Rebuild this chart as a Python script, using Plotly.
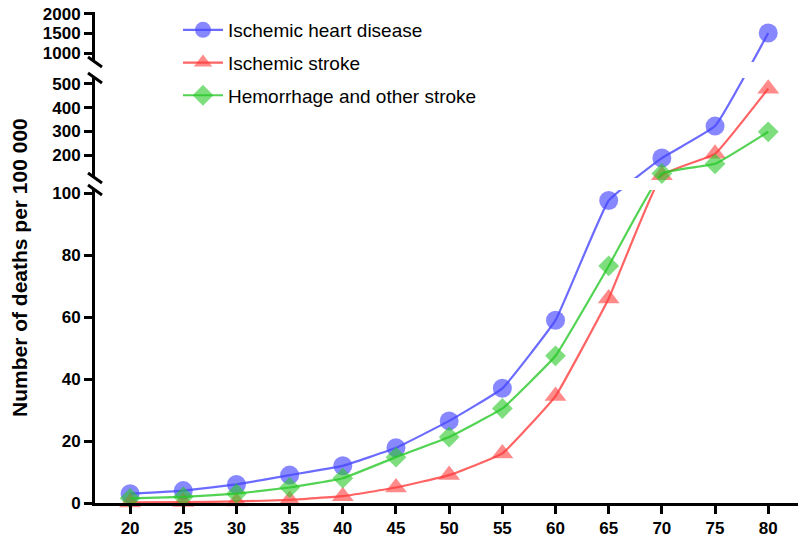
import plotly.graph_objects as go

ages = [20, 25, 30, 35, 40, 45, 50, 55, 60, 65, 70, 75, 80]
ihd = [3, 4, 6, 9, 12, 17.8, 26.5, 37, 59, 97.6, 187, 322, 1510]
isch_stroke = [0.2, 0.3, 0.5, 1, 2.2, 5, 9, 16, 34.5, 66, 115, 205, 480]
hemorrhage = [1.5, 2, 3, 5, 8, 14.8, 21.3, 30.5, 47.5, 76.5, 122, 163, 298]

names = ["Ischemic heart disease", "Ischemic stroke", "Hemorrhage and other stroke"]
series = [ihd, isch_stroke, hemorrhage]
symbols = ["circle", "triangle-up", "diamond"]
msizes = [19, 19, 16]
mcolors = ["rgba(70,70,255,0.65)", "rgba(255,60,60,0.6)", "rgba(40,200,40,0.6)"]
lcolors = ["rgba(70,70,255,0.8)", "rgba(255,60,60,0.8)", "rgba(40,200,40,0.8)"]

bottom_ticks = [0, 20, 40, 60, 80, 100]
middle_ticks = [200, 300, 400, 500]
top_ticks = [1000, 1500, 2000]

W, H = 798, 538
ML, MR, MT, MB = 95, 0, 10, 35
PH = H - MT - MB
PW = W - ML - MR
BASE = H - MB  # pixel row of y = 0

# broken-axis segments: (value range, pixel rows bottom/top)
segments = [
    ((0, 101), (503, 190)),
    ((103, 525), (178, 78)),
    ((770, 2050), (62, 12)),
]


def seg_index(v):
    if v < 102:
        return 0
    if v < 650:
        return 1
    return 2


def to_t(v):
    """Broken-axis scale: value -> height (px units) above the x axis."""
    (v0, v1), (p0, p1) = segments[seg_index(v)]
    t0, t1 = BASE - p0, BASE - p1
    return t0 + (v - v0) * (t1 - t0) / (v1 - v0)


def fy(py):
    return (BASE - py) / PH


def fx(px):
    return (px - ML) / PW


fig = go.Figure()
axes = ["y", "y2", "y3"]
for k, ax in enumerate(axes):
    for i in range(3):
        fig.add_trace(go.Scatter(
            x=ages, y=[to_t(v) for v in series[i]], name=names[i],
            customdata=series[i], hovertemplate="%{x}: %{customdata}<extra>%{fullData.name}</extra>",
            yaxis=ax, xaxis="x",
            mode="lines+markers",
            line=dict(color=lcolors[i], width=2.2, shape="spline", smoothing=0.3),
            marker=dict(symbol=symbols[i], size=msizes[i], color=mcolors[i],
                        line=dict(width=0)),
            cliponaxis=False,
            showlegend=(k == 0),
            legendgroup=names[i],
        ))

tickfont = dict(family="Liberation Sans, Arial", size=17, color="black", weight="bold")
yax_common = dict(showline=True, linewidth=3, linecolor="black", ticks="outside",
                  ticklen=8, tickwidth=2.5, tickcolor="black", showgrid=False,
                  zeroline=False, tickfont=tickfont, anchor="x", fixedrange=True)

tick_sets = [bottom_ticks, middle_ticks, top_ticks]
yaxes = {}
for k, ax in enumerate(axes):
    (v0, v1), (p0, p1) = segments[k]
    key = "yaxis" if k == 0 else "yaxis%d" % (k + 1)
    yaxes[key] = dict(range=[BASE - p0, BASE - p1],
                      tickvals=[to_t(v) for v in tick_sets[k]],
                      ticktext=[str(v) for v in tick_sets[k]],
                      domain=[fy(p0), fy(p1)], **yax_common)

fig.update_layout(
    width=W, height=H,
    margin=dict(l=ML, r=MR, t=MT, b=MB),
    paper_bgcolor="white", plot_bgcolor="white",
    xaxis=dict(range=[16.7, 82.8], tickvals=ages, showline=True, linewidth=3,
               linecolor="black", ticks="outside", ticklen=8, tickwidth=2.5,
               tickcolor="black", showgrid=False, zeroline=False, tickfont=tickfont,
               anchor="y", domain=[0, 1]),
    legend=dict(x=fx(178), y=fy(11), xanchor="left", yanchor="top",
                font=dict(family="Liberation Sans, Arial", size=19, color="black"),
                traceorder="grouped", tracegroupgap=5, bgcolor="rgba(0,0,0,0)",
                itemwidth=40),
    showlegend=True,
    **yaxes,
)

fig.add_annotation(text="<b>Number of deaths per 100 000</b>", xref="paper", yref="paper",
                   x=fx(19), y=fy(268), xanchor="center", yanchor="middle",
                   textangle=-90, showarrow=False,
                   font=dict(family="Liberation Sans, Arial", size=21, color="black"))

# axis break marks
for py in [segments[0][1][1], segments[1][1][0], segments[1][1][1], segments[2][1][0]]:
    fig.add_shape(type="line", xref="paper", yref="paper",
                  x0=fx(ML - 7), y0=fy(py - 5), x1=fx(ML + 7), y1=fy(py + 5),
                  line=dict(color="black", width=3))

fig.write_html("out.html")
